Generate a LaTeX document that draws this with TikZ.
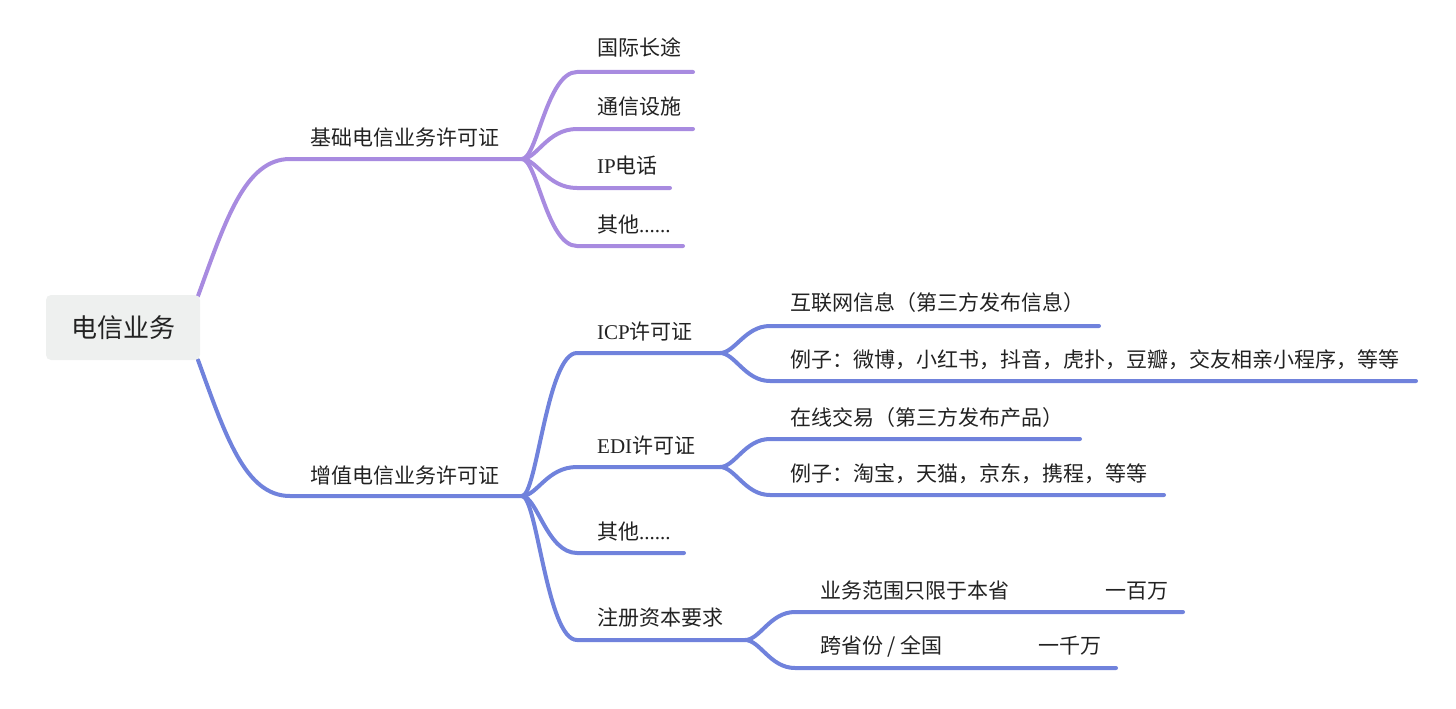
\documentclass[tikz,border=0pt]{standalone}
\usepackage{fontspec}
\setmainfont{Noto Sans CJK SC}
\newfontfamily\lat{Liberation Serif}
\definecolor{purp}{HTML}{A88BE0}
\definecolor{blu}{HTML}{7082DC}
\definecolor{rootfill}{HTML}{EEF0EF}
\definecolor{txt}{HTML}{222222}
\begin{document}
\begin{tikzpicture}[x=1pt,y=-1pt,
  lbl/.style={anchor=base west, inner sep=0pt, text=txt, font=\fontsize{21}{21}\selectfont},
  rootbox/.style={rectangle, rounded corners=5pt, fill=rootfill, minimum width=154pt, minimum height=65pt, inner sep=0pt, text=txt, font=\fontsize{26}{26}\selectfont},
  pline/.style={draw=purp, line width=4pt, line cap=round, line join=round},
  bline/.style={draw=blu, line width=4pt, line cap=round, line join=round},
  fork/.style={out=0, in=180, out distance=15pt, in distance=30pt},
  sfork/.style={out=0, in=180, out distance=15pt, in distance=25pt},
]
\useasboundingbox (0,0) rectangle (1456,709);
% coordinates
\coordinate (b1s) at (198,296);
\coordinate (b1m) at (290,159);
\coordinate (f1) at (522,159);
\coordinate (c11s) at (577,72);  \coordinate (c11e) at (693,72);
\coordinate (c12s) at (577,129); \coordinate (c12e) at (693,129);
\coordinate (c13s) at (577,188); \coordinate (c13e) at (670,188);
\coordinate (c14s) at (577,246); \coordinate (c14e) at (683,246);
\coordinate (b2s) at (198,360);
\coordinate (b2m) at (290,496);
\coordinate (f2) at (522,496);
\coordinate (c21s) at (577,353); \coordinate (g1) at (720,353);
\coordinate (c22s) at (577,467); \coordinate (g2) at (720,467);
\coordinate (c23s) at (577,553); \coordinate (c23e) at (684,553);
\coordinate (c24s) at (577,640); \coordinate (g3) at (745,640);
\coordinate (d11s) at (770,326); \coordinate (d11e) at (1099,326);
\coordinate (d12s) at (770,381); \coordinate (d12e) at (1416,381);
\coordinate (d21s) at (770,439); \coordinate (d21e) at (1080,439);
\coordinate (d22s) at (770,495); \coordinate (d22e) at (1164,495);
\coordinate (d31s) at (795,612); \coordinate (d31e) at (1183,612);
\coordinate (d32s) at (795,668); \coordinate (d32e) at (1116,668);
% branch 1
\draw[pline] (b1s) to[out=70, in=180, out distance=80pt, in distance=45pt] (b1m) -- (f1);
\draw[pline] (f1) to[fork] (c11s) -- (c11e);
\draw[pline] (f1) to[fork] (c12s) -- (c12e);
\draw[pline] (f1) to[fork] (c13s) -- (c13e);
\draw[pline] (f1) to[fork] (c14s) -- (c14e);
% branch 2
\draw[bline] (b2s) to[out=-70, in=180, out distance=80pt, in distance=45pt] (b2m) -- (f2);
\draw[bline] (f2) to[fork] (c21s) -- (g1);
\draw[bline] (f2) to[fork] (c22s) -- (g2);
\draw[bline] (f2) to[fork] (c23s) -- (c23e);
\draw[bline] (f2) to[fork] (c24s) -- (g3);
\draw[bline] (g1) to[sfork] (d11s) -- (d11e);
\draw[bline] (g1) to[sfork] (d12s) -- (d12e);
\draw[bline] (g2) to[sfork] (d21s) -- (d21e);
\draw[bline] (g2) to[sfork] (d22s) -- (d22e);
\draw[bline] (g3) to[sfork] (d31s) -- (d31e);
\draw[bline] (g3) to[sfork] (d32s) -- (d32e);
% root
\node[rootbox] (root) at (123,327.5) {电信业务};
% labels
\node[lbl] (t1) at (310,145) {基础电信业务许可证};
\node[lbl] (t11) at (597,56) {国际长途};
\node[lbl] (t12) at (597,114) {通信设施};
\node[lbl] (t13) at (597,173) {{\lat IP}电话};
\node[lbl] (t14) at (597,232) {其他{\lat ......}};
\node[lbl] (t2) at (310,483) {增值电信业务许可证};
\node[lbl] (t21) at (597,339) {{\lat ICP}许可证};
\node[lbl] (t22) at (597,453) {{\lat EDI}许可证};
\node[lbl] (t23) at (597,539) {其他{\lat ......}};
\node[lbl] (t24) at (597,625) {注册资本要求};
\node[lbl] (u11) at (790,310) {互联网信息（第三方发布信息）};
\node[lbl] (u12) at (790,367) {例子：微博，小红书，抖音，虎扑，豆瓣，交友相亲小程序，等等};
\node[lbl] (u21) at (790,425) {在线交易（第三方发布产品）};
\node[lbl] (u22) at (790,481) {例子：淘宝，天猫，京东，携程，等等};
\node[lbl] (u31) at (820,598) {业务范围只限于本省\hspace*{96pt}一百万};
\node[lbl] (u32) at (820,653) {跨省份 / 全国\hspace*{96pt}一千万};
\end{tikzpicture}
\end{document}
